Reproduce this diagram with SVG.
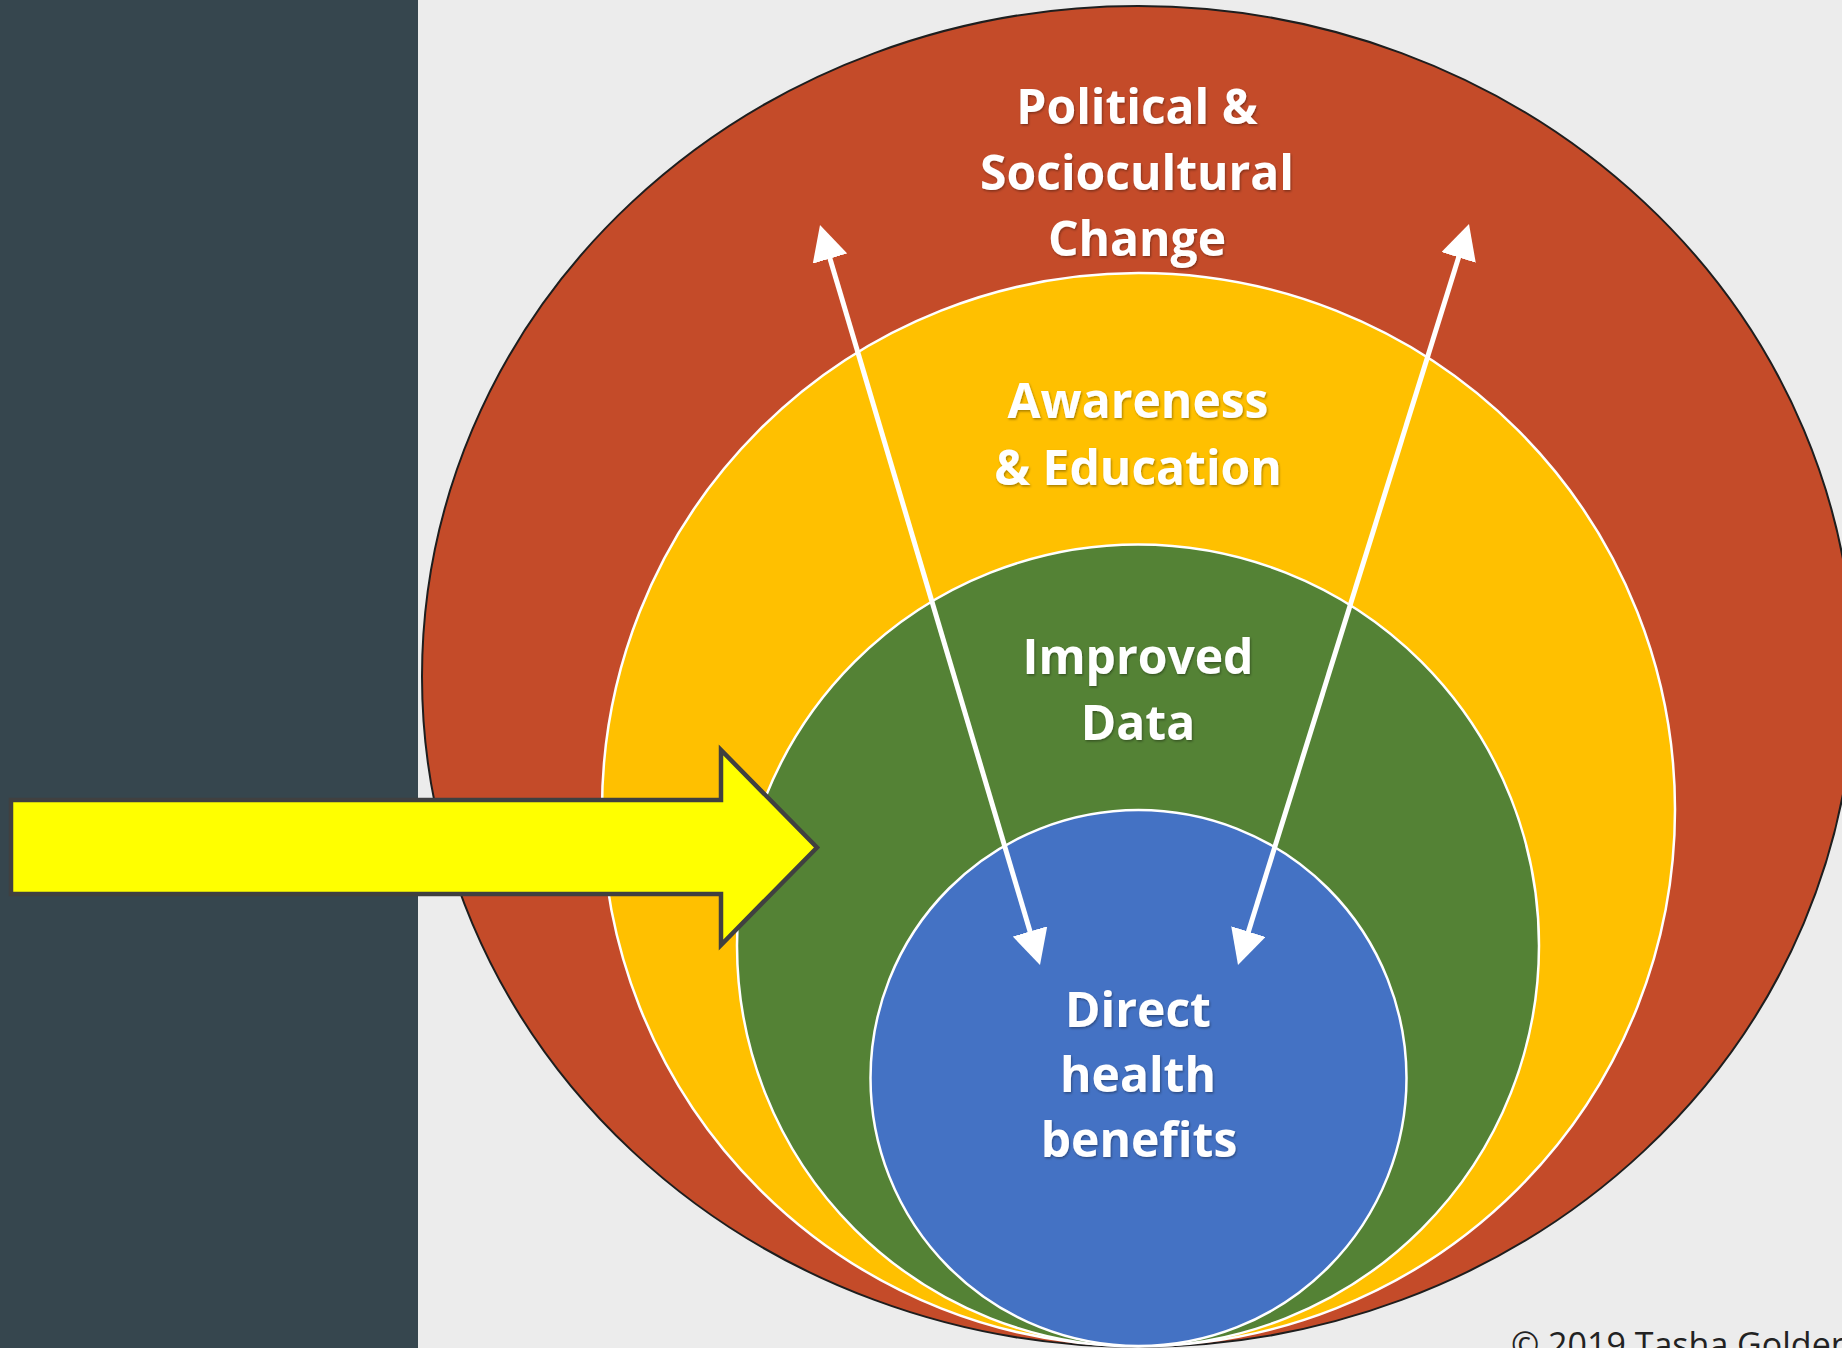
<svg xmlns="http://www.w3.org/2000/svg" width="1842" height="1348" viewBox="0 0 1842 1348">
  <style>
    .lbl { font-family: "Open Sans", "Liberation Sans", sans-serif; font-weight: 700; font-size: 48px; fill: #ffffff; text-anchor: middle; }
    .ring { stroke: #ffffff; stroke-width: 2.5; }
    .conn { stroke: #ffffff; stroke-width: 5; fill: none; }
    .copy { font-family: "Open Sans", "Liberation Sans", sans-serif; font-size: 34px; fill: #222222; }
  </style>
  <defs>
    <marker id="head" markerUnits="userSpaceOnUse" markerWidth="36" markerHeight="36" viewBox="0 0 36 36" refX="15" refY="18" orient="auto-start-reverse">
      <path d="M0,0 L35,18 L0,36 Z" fill="#ffffff"/>
    </marker>
    <filter id="shadow" x="-10%" y="-10%" width="120%" height="130%">
      <feDropShadow dx="1" dy="1.5" stdDeviation="1" flood-color="#000000" flood-opacity="0.35"/>
    </filter>
  </defs>

  <rect x="0" y="0" width="1842" height="1348" fill="#ececec"/>
  <rect id="side-panel" x="0" y="0" width="418" height="1348" fill="#36464e"/>

  <g id="layer-political">
    <ellipse cx="1138" cy="676.5" rx="716" ry="670.5" fill="#c44b29" stroke="#1e1e1e" stroke-width="2"/>
    <g filter="url(#shadow)">
      <text class="lbl" x="1137" y="124">Political &amp;</text>
      <text class="lbl" x="1137" y="190">Sociocultural</text>
      <text class="lbl" x="1137" y="256">Change</text>
    </g>
  </g>

  <g id="layer-awareness">
    <circle class="ring" cx="1138.5" cy="809.5" r="536.5" fill="#ffc000"/>
    <g filter="url(#shadow)">
      <text class="lbl" x="1138" y="418">Awareness</text>
      <text class="lbl" x="1138" y="485">&amp; Education</text>
    </g>
  </g>

  <g id="layer-data">
    <circle class="ring" cx="1138" cy="945.5" r="401" fill="#548235"/>
    <g filter="url(#shadow)">
      <text class="lbl" x="1138" y="674">Improved</text>
      <text class="lbl" x="1138" y="740">Data</text>
    </g>
  </g>

  <g id="layer-health">
    <circle class="ring" cx="1138.5" cy="1078" r="268" fill="#4472c4"/>
    <g filter="url(#shadow)">
      <text class="lbl" x="1138" y="1027">Direct</text>
      <text class="lbl" x="1138" y="1092">health</text>
      <text class="lbl" x="1139" y="1157">benefits</text>
    </g>
  </g>

  <g id="connectors">
    <line class="conn" x1="825.7" y1="244.2" x2="1034.3" y2="945.8" marker-start="url(#head)" marker-end="url(#head)"/>
    <line class="conn" x1="1463.05" y1="243.1" x2="1243.95" y2="945.9" marker-start="url(#head)" marker-end="url(#head)"/>
  </g>

  <g id="pointer">
    <polygon points="11,800 721,800 721,750 817,847.5 721,945 721,894 11,894" fill="#ffff00" stroke="#404040" stroke-width="4.5" stroke-linejoin="miter"/>
  </g>

  <text class="copy" x="1511" y="1357">© 2019 Tasha Golden</text>
</svg>
